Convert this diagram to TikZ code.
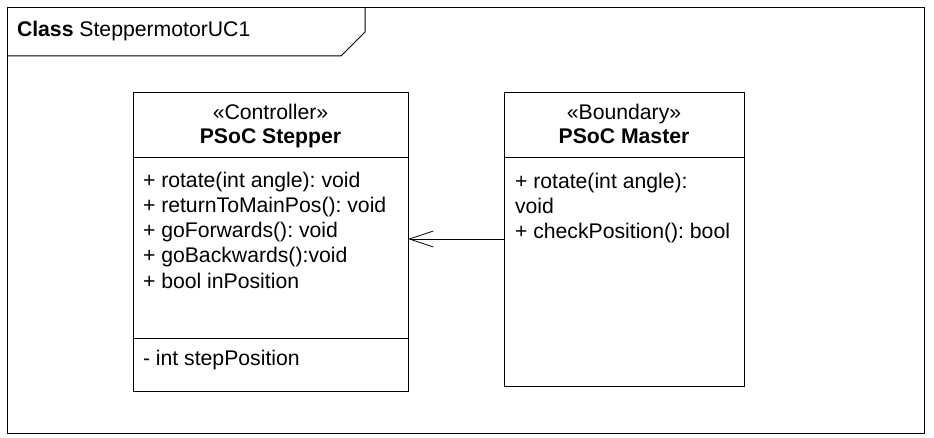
\documentclass[tikz,border=0pt]{standalone}
\usepackage{fontspec}
\setmainfont{Liberation Sans}
\usetikzlibrary{arrows.meta}
\frenchspacing
\begin{document}
\begin{tikzpicture}[x=1pt,y=-1pt,
  line width=1pt,
  every node/.style={inner sep=0pt,outer sep=0pt},
  txt/.style={anchor=base west,font=\fontsize{21.2}{25}\selectfont},
  ctxt/.style={anchor=base,font=\fontsize{21.2}{25}\selectfont},
  classbox/.style={draw,anchor=north west,minimum width=#1},
]
\useasboundingbox (0,0) rectangle (934,438);
% frame
\node[draw,anchor=north west,minimum width=917pt,minimum height=425pt] (frame) at (7,8) {};
\coordinate (tabA) at (365,8);
\coordinate (tabB) at (365,32);
\coordinate (tabC) at (341,56);
\coordinate (tabD) at (7,56);
\draw (tabA) -- (tabB) -- (tabC) -- (tabD);
\node[txt] (title) at (17,37) {\textbf{Class} SteppermotorUC1};

% PSoC Stepper
\node[classbox=275pt,minimum height=298pt] (stepper) at (133,93) {};
\coordinate (s1) at (133,158);
\coordinate (s2) at (133,338);
\draw (s1) -- (s1 -| stepper.east);
\draw (s2) -- (s2 -| stepper.east);
\node[ctxt] (sst) at (270.5,120) {«Controller»};
\node[ctxt] (snm) at (270.5,144) {\textbf{PSoC Stepper}};
\node[txt] (sa1) at (143,188) {+ rotate(int angle): void};
\node[txt] (sa2) at (143,213) {+ returnToMainPos(): void};
\node[txt] (sa3) at (143,238) {+ goForwards(): void};
\node[txt] (sa4) at (143,263) {+ goBackwards():void};
\node[txt] (sa5) at (143,288) {+ bool inPosition};
\node[txt] (sb1) at (143,365) {- int stepPosition};

% PSoC Master
\node[classbox=240pt,minimum height=293pt] (master) at (504,93) {};
\coordinate (m1) at (504,158);
\draw (m1) -- (m1 -| master.east);
\node[ctxt] (mst) at (624,120) {«Boundary»};
\node[ctxt] (mnm) at (624,144) {\textbf{PSoC Master}};
\node[txt] (ma1) at (515,189) {+ rotate(int angle):};
\node[txt] (ma2) at (515,214) {void};
\node[txt] (ma3) at (515,239) {+ checkPosition(): bool};

% dependency arrow
\coordinate (arr) at (0,239);
\draw[line width=0.8pt,-{Straight Barb[length=24pt,width=16pt,line width=0.8pt]}] (master.west |- arr) -- (stepper.east |- arr);
\end{tikzpicture}
\end{document}
